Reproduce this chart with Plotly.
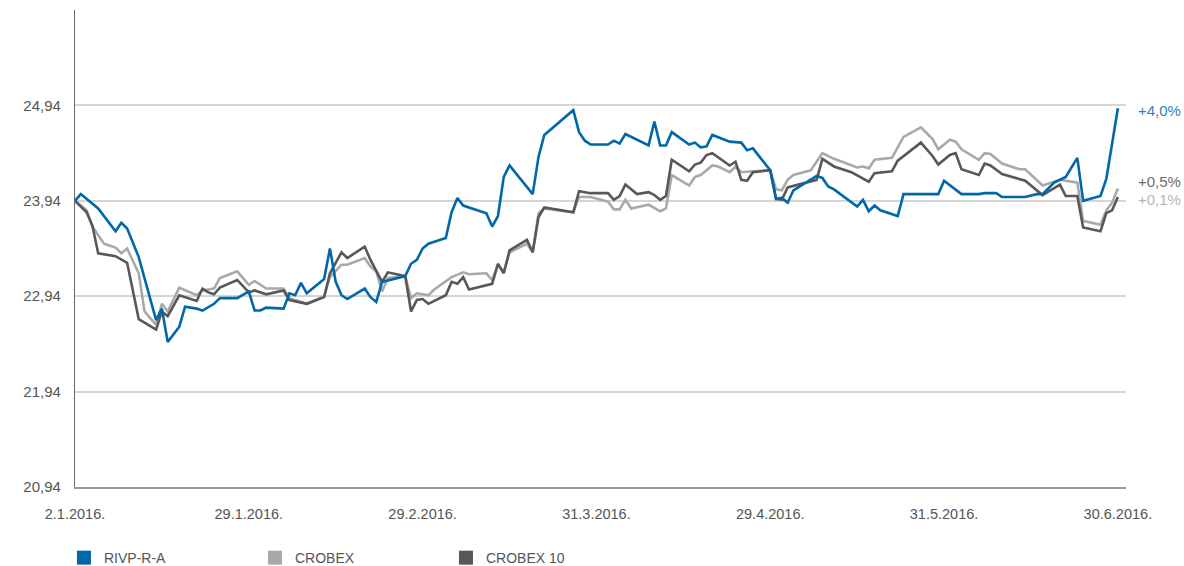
import datetime as dt
import plotly.graph_objects as go

# ---------------- data (day offsets from 2.1.2016, values) ----------------
rivp_days = [0, 1, 4, 7, 8, 9, 11, 14, 15, 16,
             18, 19, 21, 22, 24, 25, 28, 30, 31, 32,
             33, 36, 37, 38, 39, 40, 43, 44, 45, 46,
             47, 50, 51, 52, 53, 57, 58, 59, 60, 61,
             64, 65, 66, 67, 71, 72, 73, 74, 75, 79,
             80, 81, 86, 87, 88, 89, 91, 92, 93, 94,
             95, 97, 99, 100, 101, 102, 103, 106, 107, 108,
             109, 110, 113, 115, 116, 117, 120, 121, 122, 123,
             124, 128, 129, 130, 131, 135, 136, 137, 138, 139,
             142, 143, 149, 150, 153, 156, 157, 158, 159, 160,
             164, 166, 167, 169, 171, 173, 174, 177, 178, 180]
rivp_vals = [23.94, 24.01, 23.86, 23.62, 23.71, 23.65, 23.35, 22.69, 22.81, 22.46,
             22.62, 22.83, 22.81, 22.79, 22.86, 22.92, 22.92, 22.99, 22.79, 22.79,
             22.82, 22.81, 22.97, 22.95, 23.08, 22.97, 23.12, 23.44, 23.09, 22.95,
             22.91, 23.02, 22.93, 22.88, 23.09, 23.15, 23.28, 23.32, 23.44, 23.49,
             23.55, 23.82, 23.97, 23.89, 23.81, 23.67, 23.78, 24.19, 24.31, 24.01,
             24.40, 24.63, 24.89, 24.66, 24.57, 24.53, 24.53, 24.53, 24.57, 24.54,
             24.64, 24.58, 24.52, 24.77, 24.52, 24.52, 24.66, 24.53, 24.55, 24.50,
             24.51, 24.63, 24.56, 24.55, 24.47, 24.49, 24.26, 23.96, 23.97, 23.92,
             24.05, 24.20, 24.18, 24.09, 24.06, 23.88, 23.95, 23.83, 23.89, 23.84,
             23.78, 24.01, 24.01, 24.15, 24.01, 24.01, 24.02, 24.02, 24.02, 23.98,
             23.98, 24.01, 24.01, 24.13, 24.19, 24.39, 23.94, 23.99, 24.17, 24.91]

crobex_days = [0, 2, 3, 5, 7, 8, 9, 11, 12, 14,
               15, 16, 18, 21, 22, 24, 25, 28, 30, 31,
               33, 36, 37, 40, 43, 44, 46, 47, 50, 51,
               52, 53, 54, 57, 58, 59, 61, 62, 65, 67,
               68, 71, 72, 73, 74, 75, 78, 79, 80, 81,
               86, 87, 89, 91, 92, 93, 94, 95, 96, 99,
               101, 102, 103, 106, 107, 108, 110, 111, 113, 114,
               115, 117, 120, 121, 122, 123, 124, 127, 129, 131,
               135, 136, 137, 138, 141, 143, 146, 148, 149, 151,
               152, 153, 156, 157, 158, 160, 163, 164, 167, 170,
               173, 174, 177, 178, 179, 180]
crobex_vals = [23.94, 23.84, 23.67, 23.49, 23.45, 23.39, 23.44, 23.18, 22.78, 22.64,
               22.86, 22.78, 23.03, 22.95, 23.00, 23.02, 23.13, 23.20, 23.06, 23.10,
               23.02, 23.02, 22.92, 22.86, 22.94, 23.14, 23.27, 23.27, 23.34, 23.25,
               23.20, 22.99, 23.13, 23.15, 22.92, 22.97, 22.95, 23.01, 23.14, 23.19,
               23.17, 23.18, 23.11, 23.27, 23.19, 23.40, 23.49, 23.40, 23.81, 23.86,
               23.82, 23.98, 23.98, 23.95, 23.93, 23.85, 23.85, 23.95, 23.86, 23.90,
               23.83, 23.86, 24.21, 24.10, 24.19, 24.21, 24.31, 24.30, 24.24, 24.30,
               24.24, 24.25, 24.26, 24.06, 24.05, 24.16, 24.21, 24.26, 24.44, 24.38,
               24.29, 24.30, 24.28, 24.37, 24.39, 24.61, 24.71, 24.59, 24.48, 24.58,
               24.56, 24.48, 24.37, 24.44, 24.43, 24.33, 24.27, 24.27, 24.10, 24.16,
               24.13, 23.73, 23.69, 23.84, 23.92, 24.07]

crobex10_days = [0, 2, 3, 4, 7, 9, 11, 14, 15, 16,
                 18, 21, 22, 23, 24, 25, 28, 30, 31, 33,
                 36, 37, 40, 43, 44, 46, 47, 50, 51, 53,
                 54, 57, 58, 59, 60, 61, 64, 65, 66, 67,
                 68, 72, 73, 74, 75, 78, 79, 80, 81, 86,
                 87, 89, 91, 92, 93, 94, 95, 97, 99, 100,
                 101, 102, 103, 106, 107, 108, 109, 110, 113, 114,
                 115, 116, 117, 120, 121, 122, 123, 128, 129, 131,
                 134, 137, 138, 141, 142, 146, 148, 149, 151, 152,
                 153, 156, 157, 158, 160, 164, 167, 170, 171, 173,
                 174, 177, 178, 179, 180]
crobex10_vals = [23.94, 23.82, 23.68, 23.39, 23.36, 23.29, 22.70, 22.59, 22.78, 22.73,
                 22.95, 22.89, 23.02, 22.98, 22.96, 23.03, 23.11, 22.98, 23.00, 22.96,
                 23.00, 22.90, 22.86, 22.93, 23.18, 23.40, 23.34, 23.46, 23.32, 23.09,
                 23.19, 23.15, 22.78, 22.90, 22.91, 22.86, 22.95, 23.09, 23.07, 23.14,
                 23.01, 23.07, 23.28, 23.18, 23.42, 23.53, 23.40, 23.77, 23.87, 23.82,
                 24.04, 24.02, 24.02, 24.02, 23.95, 23.99, 24.11, 24.01, 24.03, 24.00,
                 23.95, 23.99, 24.37, 24.25, 24.32, 24.34, 24.42, 24.44, 24.31, 24.35,
                 24.16, 24.15, 24.24, 24.26, 23.96, 23.95, 24.08, 24.16, 24.38, 24.30,
                 24.24, 24.14, 24.23, 24.25, 24.36, 24.55, 24.41, 24.32, 24.42, 24.44,
                 24.27, 24.21, 24.33, 24.31, 24.22, 24.15, 24.00, 24.11, 23.99, 23.99,
                 23.66, 23.62, 23.81, 23.84, 23.98]

series_names = ["RIVP-R-A", "CROBEX", "CROBEX 10"]
end_labels = ["+4,0%", "+0,5%", "+0,1%"]
end_label_values = [24.89, 24.145, 23.95]

tick_day_offsets = [0, 30, 60, 90, 120, 150, 180]
tick_labels = ["2.1.2016.", "29.1.2016.", "29.2.2016.", "31.3.2016.",
               "29.4.2016.", "31.5.2016.", "30.6.2016."]
y_tick_vals = [20.94, 21.94, 22.94, 23.94, 24.94]
y_tick_text = ["20,94", "21,94", "22,94", "23,94", "24,94"]

# ---------------- styling ----------------
BLUE = "#0067a9"
LIGHT = "#a9a9ab"
DARK = "#58585a"
TEXT = "#555555"

base = dt.datetime(2016, 1, 2)


def to_dates(days):
    return [base + dt.timedelta(days=d) for d in days]


fig = go.Figure()

line_specs = [
    (crobex_days, crobex_vals, LIGHT, series_names[1]),
    (crobex10_days, crobex10_vals, DARK, series_names[2]),
    (rivp_days, rivp_vals, BLUE, series_names[0]),
]
for days, vals, col, name in line_specs:
    fig.add_trace(go.Scatter(x=to_dates(days), y=vals, mode="lines", name=name,
                             line=dict(color=col, width=2.6), showlegend=False,
                             hoverinfo="x+y+name"))

# legend entries (square swatches)
for name, col in zip(series_names, [BLUE, LIGHT, DARK]):
    fig.add_trace(go.Scatter(x=[None], y=[None], mode="markers", name=name,
                             marker=dict(symbol="square", size=14, color=col),
                             showlegend=True))

# end labels
for txt, val, col in zip(end_labels, end_label_values, ["#2f7fbf", "#6d6d6d", "#b5b5b5"]):
    fig.add_annotation(x=1, xref="paper", y=val, yref="y", text=txt,
                       showarrow=False, xanchor="left", xshift=10,
                       font=dict(size=15, color=col))

x_start = base
x_end = base + dt.timedelta(days=181.4)

fig.update_layout(
    width=1184, height=566,
    margin=dict(l=75, r=58, t=10, b=79, autoexpand=False),
    plot_bgcolor="white", paper_bgcolor="white",
    font=dict(family="Liberation Sans, Arial, sans-serif", size=14, color=TEXT),
    showlegend=True,
    legend=dict(orientation="h", x=-0.0105, xanchor="left", y=-0.149, yanchor="middle",
                entrywidth=146, entrywidthmode="pixels",
                font=dict(size=14, color=TEXT), bgcolor="rgba(0,0,0,0)"),
    xaxis=dict(type="date", range=[x_start, x_end],
               tickvals=[base + dt.timedelta(days=d) for d in tick_day_offsets],
               ticktext=tick_labels, showgrid=False, zeroline=False,
               showline=True, linecolor="#9a9a9a", linewidth=1.5,
               ticks="", ticklabelstandoff=13, tickfont=dict(size=14.5, color=TEXT)),
    yaxis=dict(range=[20.94, 25.94], tickvals=y_tick_vals, ticktext=y_tick_text,
               showgrid=True, gridcolor="#d5d5d5", gridwidth=1.5, zeroline=False,
               showline=True, linecolor="#6a6a6a", linewidth=1.2,
               ticks="", ticklabelstandoff=10, tickfont=dict(size=15, color=TEXT)),
)

fig.write_html("out.html", config={"displayModeBar": False})

# remove the browser's default page margin so the figure sits at the window origin
with open("out.html", "r", encoding="utf-8") as f:
    html = f.read()
html = html.replace("<body>", '<body style="margin:0;padding:0;overflow:hidden">', 1)
with open("out.html", "w", encoding="utf-8") as f:
    f.write(html)
